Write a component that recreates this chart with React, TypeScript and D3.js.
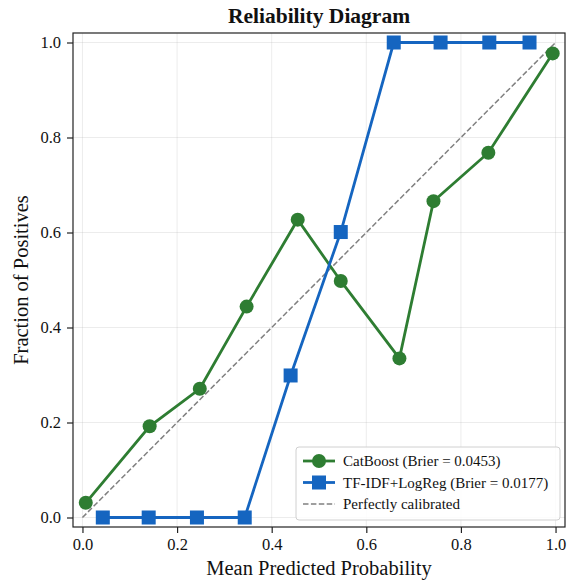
import React, { useEffect, useRef } from "react";
import * as d3 from "d3";

const catX = [0.007, 0.142, 0.248, 0.347, 0.455, 0.546, 0.67, 0.742, 0.858, 0.994];
const catY = [0.031, 0.192, 0.271, 0.444, 0.627, 0.498, 0.335, 0.666, 0.768, 0.977];
const tfX = [0.043, 0.14, 0.242, 0.343, 0.44, 0.546, 0.658, 0.757, 0.86, 0.945];
const tfY = [0, 0, 0, 0, 0.299, 0.601, 1, 1, 1, 1];
const ticks = [0, 0.2, 0.4, 0.6, 0.8, 1.0];
const legendLabels = [
  "CatBoost (Brier = 0.0453)",
  "TF-IDF+LogReg (Brier = 0.0177)",
  "Perfectly calibrated",
];

const GREEN = "#2e7d32";
const BLUE = "#1565c0";
const FONT = "'Liberation Serif', 'Times New Roman', serif";

const App = () => {
  const svgRef = useRef<SVGSVGElement>(null);

  useEffect(() => {
    const svg = d3.select(svgRef.current);
    svg.selectAll("*").remove();

    const left = 73, right = 565, top = 33, bottom = 527;
    const x = d3.scaleLinear().domain([-0.02, 1.02]).range([left, right]);
    const y = d3.scaleLinear().domain([-0.02, 1.02]).range([bottom, top]);

    // grid
    const grid = svg.append("g");
    ticks.forEach(t => {
      grid.append("line").attr("x1", x(t)).attr("x2", x(t)).attr("y1", top).attr("y2", bottom)
        .attr("stroke", "#b0b0b0").attr("stroke-opacity", 0.3).attr("stroke-width", 0.8);
      grid.append("line").attr("y1", y(t)).attr("y2", y(t)).attr("x1", left).attr("x2", right)
        .attr("stroke", "#b0b0b0").attr("stroke-opacity", 0.3).attr("stroke-width", 0.8);
    });

    // diagonal
    svg.append("line")
      .attr("x1", x(0)).attr("y1", y(0)).attr("x2", x(1)).attr("y2", y(1))
      .attr("stroke", "#808080").attr("stroke-width", 1.5).attr("stroke-dasharray", "5.5,2.4");

    const line = d3.line<[number, number]>().x(d => x(d[0])).y(d => y(d[1]));

    const cat = catX.map((v, i) => [v, catY[i]] as [number, number]);
    const tf = tfX.map((v, i) => [v, tfY[i]] as [number, number]);

    svg.append("path").attr("d", line(cat)).attr("fill", "none").attr("stroke", GREEN).attr("stroke-width", 2.8);
    svg.selectAll(".cat").data(cat).join("circle").attr("class", "cat")
      .attr("cx", d => x(d[0])).attr("cy", d => y(d[1])).attr("r", 7).attr("fill", GREEN);

    svg.append("path").attr("d", line(tf)).attr("fill", "none").attr("stroke", BLUE).attr("stroke-width", 2.8);
    svg.selectAll(".tf").data(tf).join("rect").attr("class", "tf")
      .attr("x", d => x(d[0]) - 7).attr("y", d => y(d[1]) - 7)
      .attr("width", 14).attr("height", 14).attr("fill", BLUE);

    // frame
    svg.append("rect").attr("x", left).attr("y", top).attr("width", right - left).attr("height", bottom - top)
      .attr("fill", "none").attr("stroke", "#222").attr("stroke-width", 1.2);

    // axes
    const xAxis = d3.axisBottom(x).tickValues(ticks).tickFormat(d3.format(".1f")).tickSize(6).tickPadding(5);
    const gx = svg.append("g").attr("transform", `translate(0,${bottom})`).call(xAxis);
    const yAxis = d3.axisLeft(y).tickValues(ticks).tickFormat(d3.format(".1f")).tickSize(6).tickPadding(6);
    const gy = svg.append("g").attr("transform", `translate(${left},0)`).call(yAxis);
    [gx, gy].forEach(g => {
      g.attr("font-family", FONT).attr("font-size", 16.5);
      g.select(".domain").remove();
      g.selectAll("line").attr("stroke", "#222").attr("stroke-width", 1.2);
      g.selectAll("text").attr("fill", "#111");
    });

    // legend
    const lg = svg.append("g").attr("transform", "translate(296,447)");
    lg.append("rect").attr("width", 264).attr("height", 73).attr("rx", 3)
      .attr("fill", "white").attr("fill-opacity", 0.85).attr("stroke", "#d0d0d0");
    legendLabels.forEach((lab, i) => {
      const cy = 14 + i * 21.5;
      if (i < 2) {
        const c = i === 0 ? GREEN : BLUE;
        lg.append("line").attr("x1", 7).attr("x2", 39).attr("y1", cy).attr("y2", cy)
          .attr("stroke", c).attr("stroke-width", 2.8);
        if (i === 0) lg.append("circle").attr("cx", 23).attr("cy", cy).attr("r", 7).attr("fill", c);
        else lg.append("rect").attr("x", 16).attr("y", cy - 7).attr("width", 14).attr("height", 14).attr("fill", c);
      } else {
        lg.append("line").attr("x1", 7).attr("x2", 39).attr("y1", cy).attr("y2", cy)
          .attr("stroke", "#808080").attr("stroke-width", 1.5).attr("stroke-dasharray", "5.5,2.4");
      }
      lg.append("text").attr("x", 47).attr("y", cy).attr("dy", "0.35em")
        .attr("font-family", FONT).attr("font-size", 15).attr("fill", "#111").text(lab);
    });

    // titles
    svg.append("text").attr("x", (left + right) / 2).attr("y", 23).attr("text-anchor", "middle")
      .attr("font-family", FONT).attr("font-size", 21.5).attr("font-weight", "bold").attr("fill", "#111")
      .text("Reliability Diagram");
    svg.append("text").attr("x", (left + right) / 2).attr("y", 575).attr("text-anchor", "middle")
      .attr("font-family", FONT).attr("font-size", 20.5).attr("fill", "#111")
      .text("Mean Predicted Probability");
    svg.append("text").attr("transform", `translate(28,${(top + bottom) / 2}) rotate(-90)`)
      .attr("text-anchor", "middle").attr("font-family", FONT).attr("font-size", 20.5).attr("fill", "#111")
      .text("Fraction of Positives");
  }, []);

  return (
    <svg ref={svgRef} width={577} height={585}
      style={{ position: "absolute", left: 0, top: 0, background: "white" }} />
  );
};

export default App;
